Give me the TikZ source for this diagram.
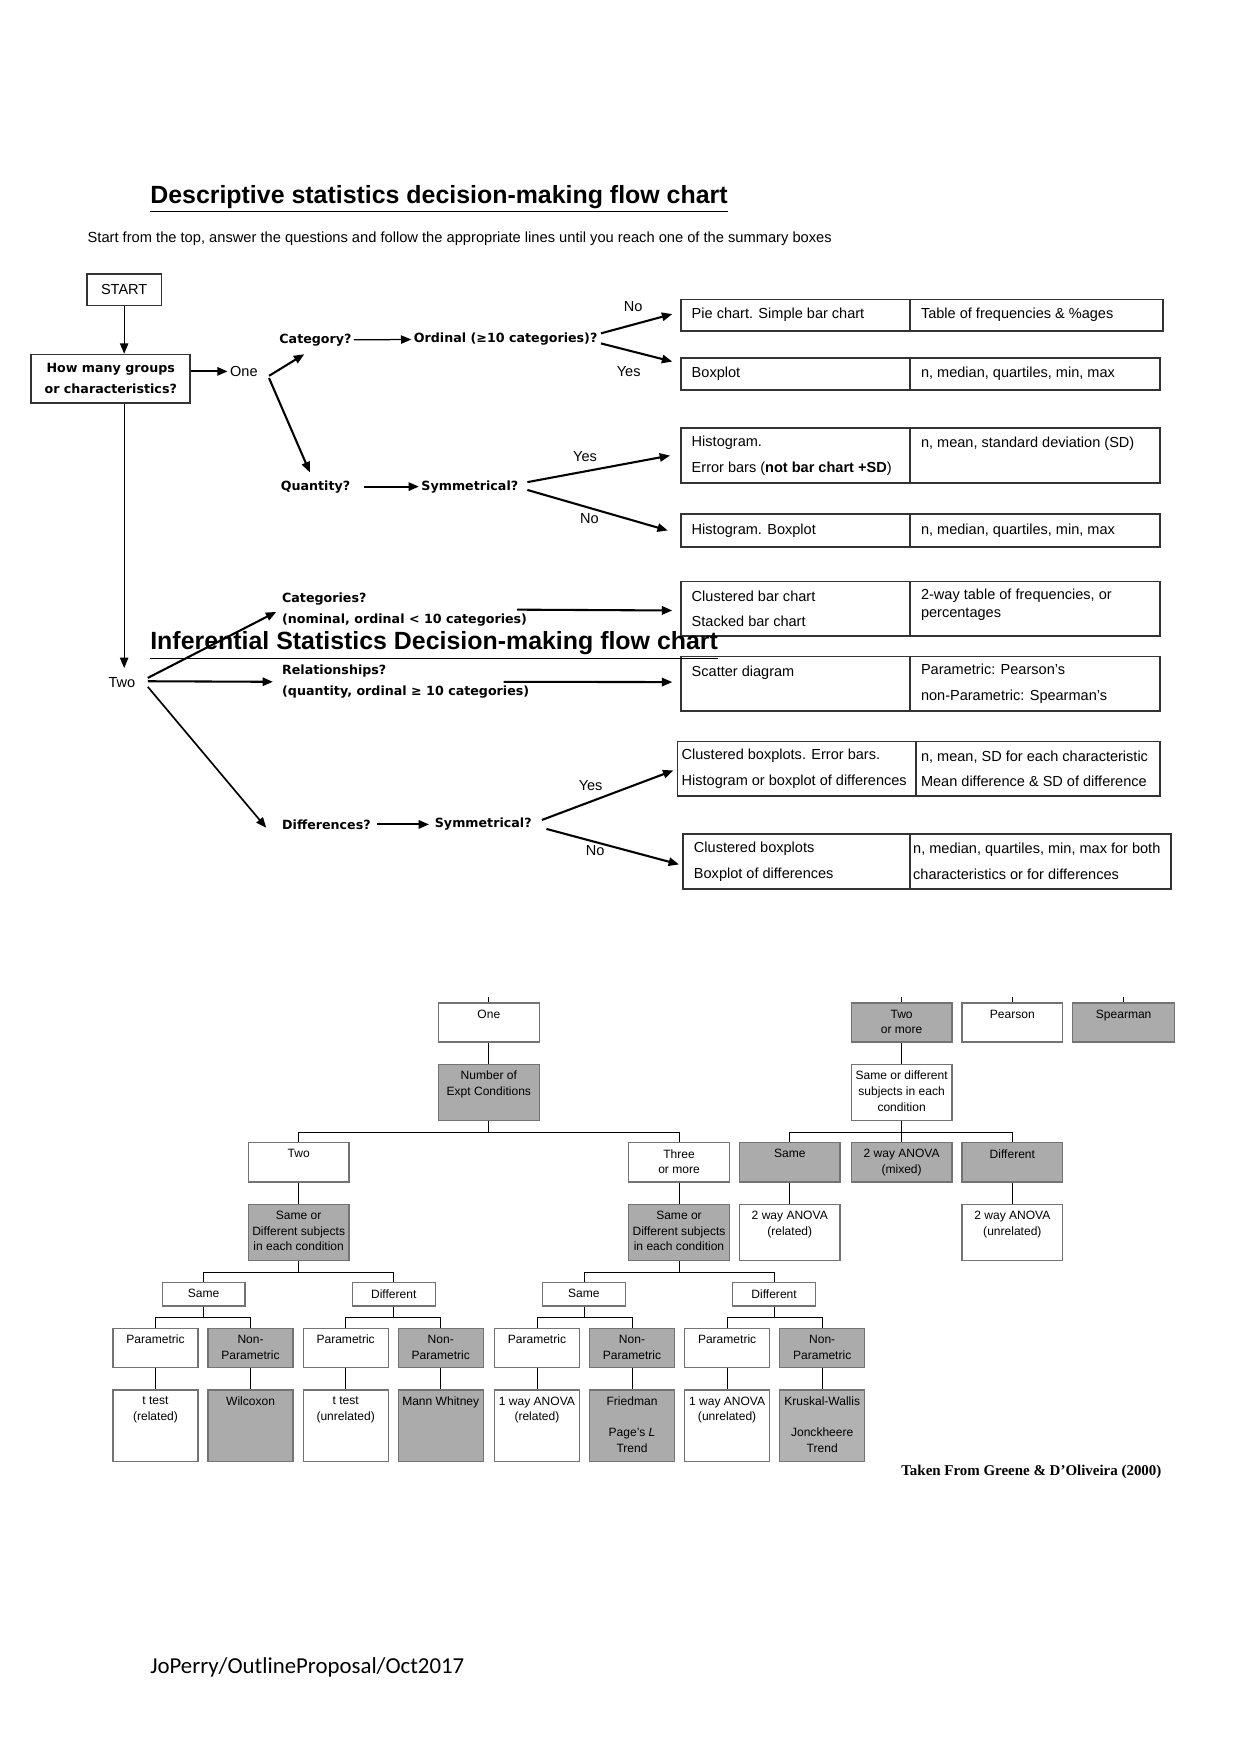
\documentclass[tikz,border=0pt]{standalone}
\usepackage{fontspec}
\setmainfont{Liberation Sans}
\newfontfamily\comicf{DejaVu Sans}
\newfontfamily\timesf{Liberation Serif}
\newfontfamily\calibf{Carlito}
\usetikzlibrary{arrows.meta}
\newdimen\pxu
\pxu=0.018937cm

\begin{document}
\begin{tikzpicture}[x=\pxu, y=-\pxu,
    arr/.style={-{Triangle[length=5pt,width=4pt]}, line width=1pt},
    tarr/.style={-{Triangle[length=5pt,width=4pt]}, line width=0.6pt},
    qt/.style={font=\comicf\bfseries\fontsize{6.1}{9.9}\selectfont, inner sep=1pt, align=left},
    lab/.style={font=\fontsize{7}{8.4}\selectfont, inner sep=1pt},
    cell/.style={draw=black!80, line width=0.8pt, anchor=north west, inner sep=0pt},
    ct/.style={anchor=west, align=left, inner xsep=10\pxu, inner ysep=0pt, font=\fontsize{7}{12.4}\selectfont},
    tbox/.style={draw=black!55, line width=0.6pt, anchor=north, minimum width=90\pxu, minimum height=35\pxu, inner sep=0pt},
    tl/.style={anchor=north, align=center, inner sep=1.5pt, yshift=-3.5\pxu, font=\fontsize{5.8}{7.5}\selectfont}]
    \useasboundingbox (0,0) rectangle (1109,1568);

    \node[anchor=base west, inner sep=0pt, font=\bfseries\fontsize{12}{14}\selectfont] (title1) at (134,182) {\underline{Descriptive statistics decision-making flow chart}};
    \node[anchor=base west, inner sep=0pt, font=\fontsize{7.07}{8.4}\selectfont] (intro) at (78,217) {Start from the top, answer the questions and follow the appropriate lines until you reach one of the summary boxes};

    \node[lab, draw=black!80, line width=0.8pt, minimum width=67\pxu, minimum height=28\pxu] (start) at (111,259) {START};
    \node[qt, align=center, draw=black!80, line width=0.8pt, minimum width=142\pxu, minimum height=43\pxu] (howmany) at (99,338.5) {How many groups\\or characteristics?};
    \node[lab] (one) at (218,332) {One};
    \node[lab] (two) at (109,610) {Two};
    \node[qt] (catq) at (282,304) {Category?};
    \node[qt] (ordq) at (452,303) {Ordinal (≥10 categories)?};
    \node[qt] (quant) at (282,435) {Quantity?};
    \node[qt] (symq) at (420,435) {Symmetrical?};
    \node[qt, anchor=west] (cats) at (250,545) {Categories?\\(nominal, ordinal < 10 categories)};
    \node[qt, anchor=west] (rels) at (250,609.5) {Relationships?\\(quantity, ordinal ≥ 10 categories)};
    \node[qt, anchor=west] (diffq) at (250,737) {Differences?};
    \node[qt] (symd) at (432,737) {Symmetrical?};

    \node[lab] (no1) at (566,274) {No};
    \node[lab] (yes1) at (562,332) {Yes};
    \node[lab] (yes2) at (523,408) {Yes};
    \node[lab] (no2) at (527,464) {No};
    \node[lab] (yes3) at (528,702) {Yes};
    \node[lab] (no3) at (532,760) {No};

    \node[cell, minimum width=205\pxu, minimum height=28\pxu, label={[ct]west:Pie chart. Simple bar chart}] (pie) at (608,267) {};
    \node[cell, minimum width=226\pxu, minimum height=28\pxu, label={[ct]west:Table of frequencies \& \%ages}] (pietab) at (813,267) {};
    \node[cell, minimum width=205\pxu, minimum height=29\pxu, label={[ct]west:Boxplot}] (boxp) at (608,319) {};
    \node[cell, minimum width=223\pxu, minimum height=29\pxu, label={[ct]west:{n, median, quartiles, min, max}}] (boxptab) at (813,319) {};
    \node[cell, minimum width=205\pxu, minimum height=49\pxu, label={[ct]west:{Histogram.\\Error bars (\textbf{not bar chart +SD})}}] (hist) at (608,382) {};
    \node[cell, minimum width=223\pxu, minimum height=49\pxu, label={[ct]west:{n, mean, standard deviation (SD)\\\mbox{}}}] (histtab) at (813,382) {};
    \node[cell, minimum width=205\pxu, minimum height=29\pxu, label={[ct]west:Histogram. Boxplot}] (histbp) at (608,459) {};
    \node[cell, minimum width=223\pxu, minimum height=29\pxu, label={[ct]west:{n, median, quartiles, min, max}}] (histbptab) at (813,459) {};
    \node[cell, minimum width=205\pxu, minimum height=49\pxu, label={[ct]west:{Clustered bar chart\\Stacked bar chart}}] (clus) at (608,519) {};
    \node[cell, minimum width=223\pxu, minimum height=49\pxu, label={[ct, font=\fontsize{7}{8.6}\selectfont, yshift=3.5\pxu]west:{2-way table of frequencies, or\\percentages}}] (clustab) at (813,519) {};
    \node[cell, minimum width=205\pxu, minimum height=49\pxu, label={[ct]west:{Scatter diagram\\\mbox{}}}] (scat) at (608,586) {};
    \node[cell, minimum width=223\pxu, minimum height=49\pxu, label={[ct]west:{Parametric: Pearson's\\non-Parametric: Spearman's}}] (scattab) at (813,586) {};
    \node[cell, minimum width=213\pxu, minimum height=49\pxu, label={[ct, inner xsep=4\pxu]west:{Clustered boxplots. Error bars.\\Histogram or boxplot of differences}}] (cbox) at (605,662) {};
    \node[cell, minimum width=218\pxu, minimum height=49\pxu, label={[ct, inner xsep=5\pxu]west:{n, mean, SD for each characteristic\\Mean difference \& SD of difference}}] (cboxtab) at (818,662) {};
    \node[cell, minimum width=203\pxu, minimum height=49\pxu, label={[ct]west:{Clustered boxplots\\Boxplot of differences}}] (cboxd) at (610,745) {};
    \node[cell, minimum width=233\pxu, minimum height=49\pxu, label={[ct, inner xsep=3\pxu]west:{n, median, quartiles, min, max for both\\characteristics or for differences}}] (cboxdtab) at (813,745) {};

    \draw[tarr] (start) -- (howmany.north -| start);
    \draw[arr] (howmany.east |- one) -- (one);
    \draw[arr] ([shift={(8,4)}]one.east) -- ([shift={(-10,5)}]catq.south);
    \draw[arr] ([shift={(8,6)}]one.east) -- ([shift={(-5,-5)}]quant.north);
    \draw[tarr] (catq) -- (ordq);
    \draw[arr] ([shift={(1,-5)}]ordq.east) -- ([shift={(-7,-1)}]pie.west);
    \draw[arr] ([shift={(1,4)}]ordq.east) -- ([shift={(-7,-11)}]boxp.west);
    \draw[arr] ([shift={(10,0)}]quant.east) -- (symq);
    \draw[arr] ([shift={(6,-4)}]symq.east) -- ([shift={(-9,0)}]hist.west);
    \draw[arr] ([shift={(6,3)}]symq.east) -- ([shift={(-11,0)}]histbp.west);
    \draw[tarr, shorten >=6\pxu] (howmany.south -| start) -- (two.north -| start);
    \draw[arr] ([shift={(9,-4)}]two.east) -- ([shift={(-3,2)}]cats.west);
    \draw[arr] ([shift={(9,-1)}]two.east) -- ([shift={(-6,0)}]rels.west);
    \draw[arr, line width=0.8pt] ([shift={(9,4)}]two.east) -- ([shift={(-12,3)}]diffq.west);
    \draw[arr] ([shift={(-11,0)}]cats.east) -- ([shift={(-7,1.5)}]clus.west);
    \draw[arr] ([shift={(-25,0)}]rels.east) -- ([shift={(-7,-1.5)}]scat.west);
    \draw[arr] ([shift={(3,0)}]diffq.east) -- ([shift={(-3,0)}]symd.west);
    \draw[arr] ([shift={(7,-4)}]symd.east) -- ([shift={(-3,1.5)}]cbox.west);
    \draw[arr] ([shift={(11,4)}]symd.east) -- ([shift={(-3,2.5)}]cboxd.west);

    \node[anchor=base west, inner sep=0pt, font=\bfseries\fontsize{12}{14}\selectfont] (title2) at (134,581) {\underline{Inferential Statistics Decision-making flow chart}};

    \node[tbox, label={[tl]north:One}] (cond1) at (437,896) {};
    \node[tbox, fill=black!33, minimum height=50\pxu, label={[tl]north:Number of\\Expt Conditions}] (nexp) at (437,951) {};
    \node[tbox, label={[tl]north:Two}] (cond2) at (267,1021) {};
    \node[tbox, label={[tl]north:Three\\or more}] (cond3) at (607,1021) {};
    \node[tbox, fill=black!33, minimum height=50\pxu, label={[tl]north:Same or\\Different subjects\\in each condition}] (sd2) at (267,1076) {};
    \node[tbox, fill=black!33, minimum height=50\pxu, label={[tl]north:Same or\\Different subjects\\in each condition}] (sd3) at (607,1076) {};
    \node[tbox, minimum width=74\pxu, minimum height=21\pxu, label={[tl]north:Same}] (same2) at (182,1146) {};
    \node[tbox, minimum width=74\pxu, minimum height=21\pxu, label={[tl]north:Different}] (diff2) at (352,1146) {};
    \node[tbox, minimum width=74\pxu, minimum height=21\pxu, label={[tl]north:Same}] (same3) at (522,1146) {};
    \node[tbox, minimum width=74\pxu, minimum height=21\pxu, label={[tl]north:Different}] (diff3) at (692,1146) {};

    \draw (cond1.north) -- ++(0,-5);
    \draw (cond1) -- (nexp);
    \foreach \c in {cond2,cond3} {
        \draw (nexp.south) -- ++(0,10) -| (\c.north);
    }
    \draw (cond2) -- (sd2);
    \draw (cond3) -- (sd3);
    \foreach \pa/\c in {sd2/same2, sd2/diff2, sd3/same3, sd3/diff3} {
        \draw (\pa.south) -- ++(0,10) -| (\c.north);
    }
    \foreach \g/\x in {same2/139, diff2/309, same3/480, diff3/650} {
        \node[tbox, minimum width=76\pxu, label={[tl]north:Parametric}] (p\g) at (\x,1187) {};
        \node[tbox, fill=black!33, minimum width=76\pxu, label={[tl]north:Non-\\Parametric}] (np\g) at (\x+85,1187) {};
        \draw (\g.south) -- ++(0,10) -| (p\g.north);
        \draw (\g.south) -- ++(0,10) -| (np\g.north);
    }
    \foreach \nm/\pa/\fl/\txt in {ttrel/psame2/white/{t test\\(related)}, wilc/npsame2/black!33/{Wilcoxon},
            ttunr/pdiff2/white/{t test\\(unrelated)}, mannw/npdiff2/black!33/{Mann Whitney},
            anrel/psame3/white/{1 way ANOVA\\(related)}, fried/npsame3/black!33/{Friedman\\\mbox{}\\Page's \textit{L}\\Trend},
            anunr/pdiff3/white/{1 way ANOVA\\(unrelated)}, krusk/npdiff3/black!30/{Kruskal-Wallis\\\mbox{}\\Jonckheere\\Trend}} {
        \node[tbox, fill=\fl, minimum width=76\pxu, minimum height=64\pxu, label={[tl]north:\txt}] (\nm) at (\pa.south |- 0,1242) {};
        \draw (\pa) -- (\nm);
    }

    \node[tbox, fill=black!33, label={[tl]north:Two\\or more}] (twomore) at (806,896) {};
    \node[tbox, label={[tl]north:Pearson}] (pears) at (905,896) {};
    \node[tbox, fill=black!33, minimum width=91\pxu, label={[tl]north:Spearman}] (spear) at (1004.5,896) {};
    \node[tbox, minimum height=50\pxu, label={[tl]north:Same or different\\subjects in each\\condition}] (sdmix) at (806,951) {};
    \node[tbox, fill=black!33, label={[tl]north:Same}] (samemix) at (706,1021) {};
    \node[tbox, fill=black!33, label={[tl]north:2 way ANOVA\\(mixed)}] (mixed) at (806,1021) {};
    \node[tbox, fill=black!33, label={[tl]north:Different}] (diffmix) at (905,1021) {};
    \node[tbox, minimum height=50\pxu, label={[tl]north:2 way ANOVA\\(related)}] (anrelmix) at (706,1076) {};
    \node[tbox, minimum height=50\pxu, label={[tl]north:2 way ANOVA\\(unrelated)}] (anunrmix) at (905,1076) {};

    \foreach \c in {twomore,pears,spear} {
        \draw (\c.north) -- ++(0,-5);
    }
    \draw (twomore) -- (sdmix);
    \foreach \c in {samemix,mixed,diffmix} {
        \draw (sdmix.south) -- ++(0,10) -| (\c.north);
    }
    \draw (samemix) -- (anrelmix);
    \draw (diffmix) -- (anunrmix);

    \node[font=\timesf\bfseries\fontsize{7.2}{8.6}\selectfont] (source) at (922,1316) {Taken From Greene \& D’Oliveira (2000)};
    \node[anchor=base west, inner sep=0pt, font=\calibf\fontsize{11}{13}\selectfont] (footer) at (134,1496) {JoPerry/OutlineProposal/Oct2017};
\end{tikzpicture}
\end{document}
